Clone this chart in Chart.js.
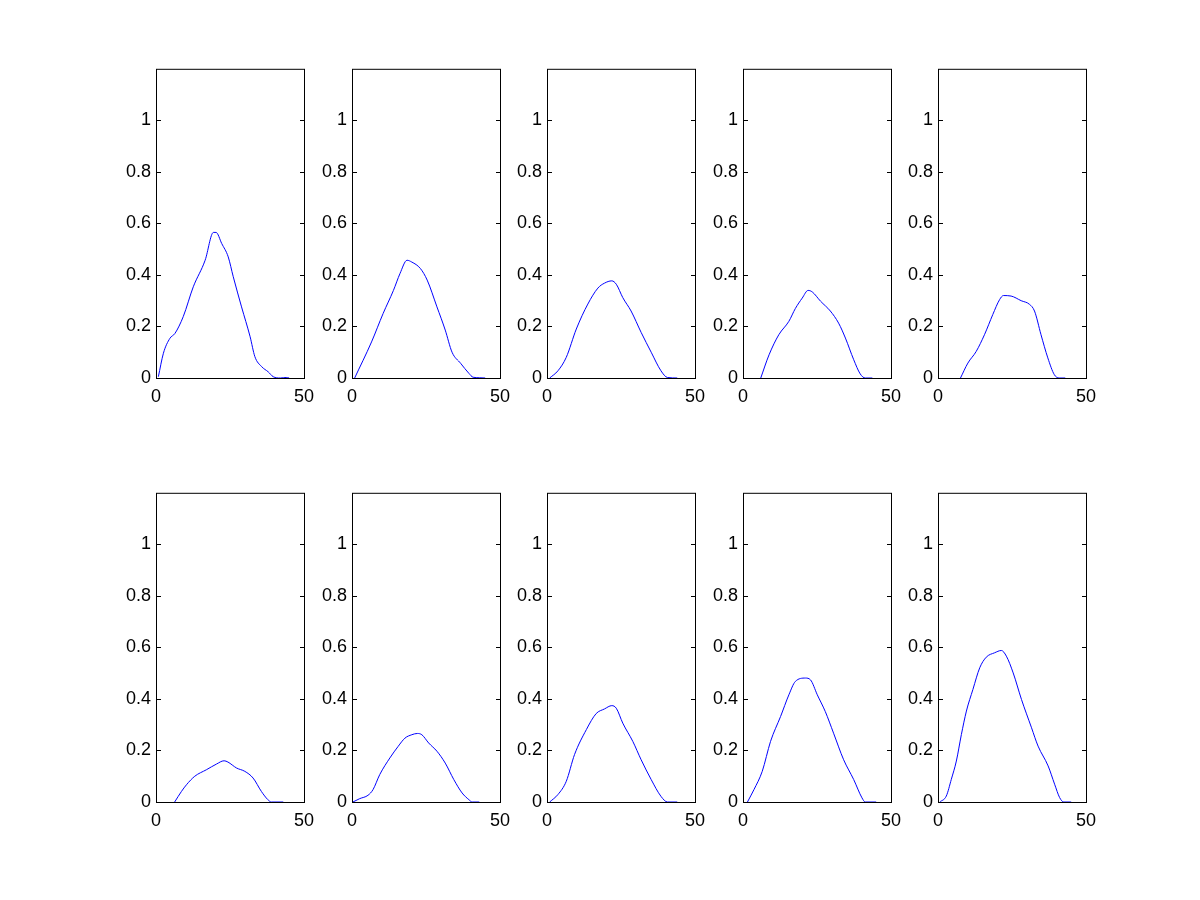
<!DOCTYPE html>
<html>
<head>
<meta charset="utf-8">
<script src="https://cdn.jsdelivr.net/npm/chart.js@4/dist/chart.umd.min.js"></script>
<style>
  body { margin: 0; background: #fff; }
  #fig { position: relative; width: 1200px; height: 900px; background: #fff; }
  #fig canvas { position: absolute; }
</style>
</head>
<body>
<div id="fig"></div>
<script>
// tick labels
const xTicks = [0, 50];
const yTicks = [0, 0.2, 0.4, 0.6, 0.8, 1];

// curves (x, y)
const p1x = [0.8, 2.5, 4.7, 6.4, 9.2, 12.6, 16.6, 19.4, 20.3, 22.2, 24.4, 26.1, 28.9, 31.8, 33.4, 35.7, 37.9, 39.6, 42, 44, 45];
const p1y = [0.005, 0.096, 0.154, 0.173, 0.238, 0.354, 0.457, 0.565, 0.565, 0.522, 0.47, 0.393, 0.276, 0.16, 0.083, 0.044, 0.024, 0.005, 0, 0.002, 0];
const p2x = [0.9, 6.6, 10.5, 14.0, 16.2, 18.6, 20.2, 23.1, 25.4, 28.7, 31.5, 33.8, 36.7, 39.5, 40.9, 43, 45];
const p2y = [0, 0.14, 0.25, 0.34, 0.405, 0.457, 0.45, 0.425, 0.38, 0.276, 0.186, 0.1, 0.057, 0.018, 0.003, 0.001, 0];
const p3x = [0.9, 3.7, 6.5, 9.9, 13.8, 17.2, 19.4, 21.9, 23.4, 25.6, 28.4, 31.8, 35.2, 38.5, 40.7, 44];
const p3y = [0, 0.028, 0.08, 0.19, 0.287, 0.349, 0.368, 0.377, 0.364, 0.312, 0.26, 0.177, 0.1, 0.028, 0.002, 0];
const p4x = [6.0, 8.8, 12.1, 15.5, 17.7, 20.0, 22.0, 23.4, 26.2, 29.5, 32.3, 34.6, 37.4, 39.6, 41.3, 43.7];
const p4y = [0, 0.09, 0.168, 0.22, 0.27, 0.31, 0.34, 0.334, 0.298, 0.26, 0.213, 0.155, 0.071, 0.016, 0, 0];
const p5x = [7.6, 10.1, 12.9, 15.7, 18.5, 20.8, 22.1, 24.7, 28.1, 30.9, 32.6, 34.8, 37.1, 39.3, 40.9, 43];
const p5y = [0, 0.058, 0.103, 0.168, 0.246, 0.304, 0.32, 0.318, 0.3, 0.286, 0.26, 0.168, 0.078, 0.013, 0, 0];
const p6x = [6.3, 8.6, 10.3, 13.1, 17.0, 20.4, 23.0, 24.3, 27.2, 30.0, 32.8, 35.6, 37.8, 39, 43];
const p6y = [0, 0.041, 0.067, 0.1, 0.125, 0.147, 0.16, 0.155, 0.132, 0.119, 0.093, 0.041, 0.009, 0, 0];
const p7x = [0.3, 2.6, 5.4, 7.1, 9.4, 12.8, 15.6, 17.9, 20.2, 22.1, 23.6, 25.9, 28.7, 31.5, 34.4, 37.2, 39.5, 40.6, 43];
const p7y = [0, 0.013, 0.026, 0.048, 0.107, 0.171, 0.216, 0.248, 0.261, 0.266, 0.261, 0.229, 0.197, 0.151, 0.087, 0.035, 0.009, 0, 0];
const p8x = [0.9, 3.7, 6.5, 9.3, 13.3, 16.6, 19.4, 21.9, 23.4, 25.6, 29.0, 31.8, 35.2, 38.5, 40.7, 44];
const p8y = [0, 0.029, 0.08, 0.184, 0.281, 0.343, 0.361, 0.374, 0.364, 0.306, 0.235, 0.164, 0.087, 0.022, 0, 0];
const p9x = [1.5, 3.7, 6.5, 9.3, 12.7, 15.5, 17.7, 21.1, 22.8, 25.1, 27.8, 30.6, 34.0, 37.4, 40.2, 41.3, 45];
const p9y = [0, 0.048, 0.119, 0.235, 0.332, 0.416, 0.468, 0.481, 0.474, 0.416, 0.351, 0.267, 0.164, 0.087, 0.016, 0, 0];
const p10x = [0.6, 2.8, 4.5, 6.2, 7.9, 9.6, 11.8, 14.1, 16.3, 19.1, 21.4, 23.1, 25.4, 28.2, 31.6, 33.8, 37.2, 39.4, 41.1, 42.5, 45];
const p10y = [0, 0.023, 0.088, 0.159, 0.262, 0.353, 0.437, 0.521, 0.562, 0.579, 0.588, 0.566, 0.501, 0.398, 0.288, 0.217, 0.14, 0.069, 0.017, 0, 0];

const panels = [[p1x, p1y], [p2x, p2y], [p3x, p3y], [p4x, p4y], [p5x, p5y],
                [p6x, p6y], [p7x, p7y], [p8x, p8y], [p9x, p9y], [p10x, p10y]];

const colLeft = [156, 352, 547, 743, 938];
const rowTop = [68, 492];
const boxW = 148, boxH = 310;
const padL = 60, padT = 10, padR = 20, padB = 35;
const topOff = 15; // where chart.js ends up putting the plot top

const font = { family: "'Liberation Sans', Arial, sans-serif", size: 18 };

// box around the axes, ticks pointing inward on both sides
const boxPlugin = {
  id: 'box',
  afterDraw(chart) {
    const { ctx, chartArea: a, scales } = chart;
    ctx.save();
    ctx.strokeStyle = '#000';
    ctx.lineWidth = 1;
    ctx.strokeRect(a.left + 0.5, a.top + 0.5, a.right - a.left, a.bottom - a.top);
    ctx.beginPath();
    yTicks.forEach(v => {
      const y = Math.round(scales.y.getPixelForValue(v)) + 0.5;
      ctx.moveTo(a.left, y); ctx.lineTo(a.left + 5, y);
      ctx.moveTo(a.right - 4, y); ctx.lineTo(a.right + 1, y);
    });
    ctx.stroke();
    ctx.restore();
  }
};

const fig = document.getElementById('fig');

panels.forEach(([xs, ys], i) => {
  const c = document.createElement('canvas');
  const w = padL + boxW + padR, h = topOff + boxH + padB;
  c.width = w; c.height = h;
  c.style.left = (colLeft[i % 5] - padL) + 'px';
  c.style.top = (rowTop[Math.floor(i / 5)] - topOff) + 'px';
  fig.appendChild(c);

  new Chart(c.getContext('2d'), {
    type: 'line',
    data: {
      datasets: [{
        data: xs.map((x, k) => ({ x: x, y: ys[k] })),
        borderColor: '#0000ff',
        borderWidth: 1,
        pointRadius: 0,
        fill: false,
        cubicInterpolationMode: 'monotone'
      }]
    },
    options: {
      responsive: false,
      animation: false,
      devicePixelRatio: 1,
      layout: { padding: { top: padT, right: padR, left: 0, bottom: 0 } },
      plugins: { legend: { display: false }, tooltip: { enabled: false } },
      scales: {
        x: {
          type: 'linear', min: 0, max: 50,
          afterBuildTicks: s => { s.ticks = xTicks.map(v => ({ value: v })); },
          afterFit: s => { s.height = padB; },
          grid: { display: false, drawTicks: false },
          border: { display: false },
          ticks: { color: '#000', font: font, padding: 8, maxRotation: 0, callback: v => String(v) }
        },
        y: {
          min: 0, max: 1.2,
          afterBuildTicks: s => { s.ticks = yTicks.map(v => ({ value: v })); },
          afterFit: s => { s.width = padL; },
          grid: { display: false, drawTicks: false },
          border: { display: false },
          ticks: { color: '#000', font: font, padding: 5, callback: v => String(v) }
        }
      }
    },
    plugins: [boxPlugin]
  });
});
</script>
</body>
</html>
